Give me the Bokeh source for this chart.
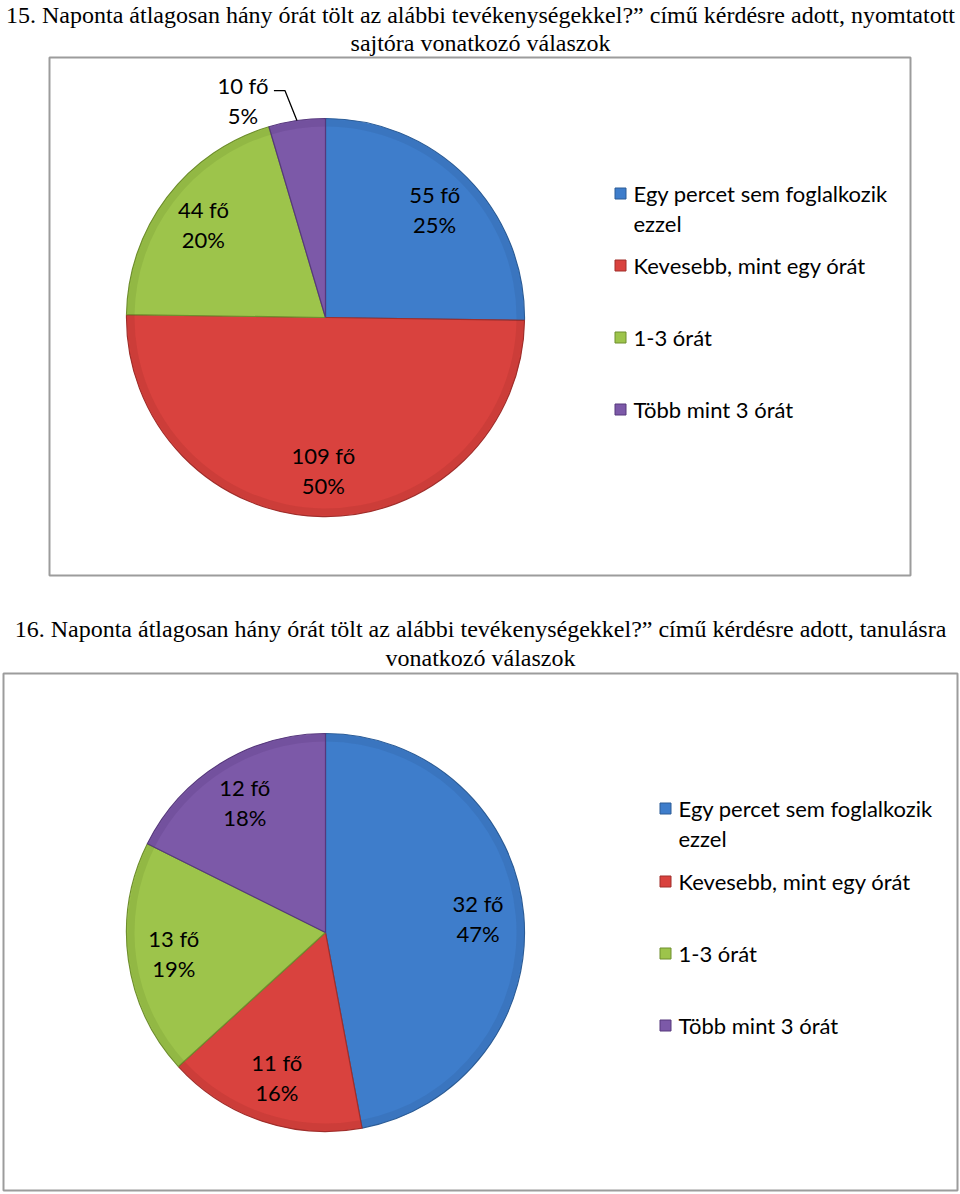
import math
from bokeh.plotting import figure
from bokeh.models import Range1d, ColumnDataSource
from bokeh.core.properties import value
from bokeh.embed import file_html
from bokeh.resources import INLINE

# ---------------- data ----------------
categories = ["Egy percet sem foglalkozik ezzel", "Kevesebb, mint egy órát",
              "1-3 órát", "Több mint 3 órát"]
legend_lines = [["Egy percet sem foglalkozik", "ezzel"], ["Kevesebb, mint egy órát"],
                ["1-3 órát"], ["Több mint 3 órát"]]
counts_15 = [55, 109, 44, 10]
pct_15 = [25, 50, 20, 5]
counts_16 = [32, 11, 13, 12]
pct_16 = [47, 16, 19, 18]
title_15 = ["15. Naponta átlagosan hány órát tölt az alábbi tevékenységekkel?\u201d című kérdésre adott, nyomtatott",
            "sajtóra vonatkozó válaszok"]
title_16 = ["16. Naponta átlagosan hány órát tölt az alábbi tevékenységekkel?\u201d című kérdésre adott, tanulásra",
            "vonatkozó válaszok"]

colors = ["#3E7DCB", "#D9423E", "#9DC44B", "#7C59A8"]
dark = ["#2C5C96", "#A02E2B", "#6F8F2E", "#56387C"]

W, H = 960, 1194
LABEL_FONT = value("Lato")
TITLE_FONT = value("Liberation Serif")

p = figure(width=W, height=H, x_range=Range1d(0, W), y_range=Range1d(0, H),
           output_backend="svg", toolbar_location=None, min_border=0)
p.axis.visible = False
p.grid.visible = False
p.outline_line_color = None
p.background_fill_color = "white"
p.border_fill_color = "white"


def Y(py):
    return H - py


def draw_title(lines, ys, size="24px"):
    for t, y in zip(lines, ys):
        p.text(x=[W / 2], y=[Y(y)], text=[t], text_font=TITLE_FONT, text_font_size=size,
               text_align="center", text_baseline="middle", text_color="black")


def draw_box(x0, x1, y0, y1):
    p.quad(left=[x0], right=[x1], top=[Y(y0)], bottom=[Y(y1)], fill_color=None,
           line_color="#9C9C9C", line_width=2)


def draw_pie(cx, cy, r, counts, pcts, outside=None):
    total = sum(counts)
    cum = 0.0
    starts, ends, mids = [], [], []
    for c in counts:
        f0 = cum / total
        cum += c
        f1 = cum / total
        starts.append(math.pi / 2 - 2 * math.pi * f0)
        ends.append(math.pi / 2 - 2 * math.pi * f1)
        mids.append((f0 + f1) / 2)
    src = ColumnDataSource(dict(x=[cx] * len(counts), y=[Y(cy)] * len(counts), s=starts, e=ends,
                                c=colors, d=dark))
    p.wedge(x="x", y="y", radius=r, start_angle="s", end_angle="e", direction="clock",
            fill_color="c", line_color="d", line_width=1.2, source=src)
    # bevel hint along the rim
    p.annular_wedge(x="x", y="y", inner_radius=r - 8, outer_radius=r - 1, start_angle="s",
                    end_angle="e", direction="clock", fill_color="d", fill_alpha=0.22,
                    line_color=None, source=src)
    # labels
    for i, (c, pc, m) in enumerate(zip(counts, pcts, mids)):
        th = 2 * math.pi * m
        sx, sy = math.sin(th), -math.cos(th)
        if outside is not None and i == outside:
            ex, ey = cx + sx * r, cy + sy * r
            elbow_x, elbow_y = ex - 12, ey - 30
            p.line(x=[ex, elbow_x, elbow_x - 11], y=[Y(ey), Y(elbow_y), Y(elbow_y)],
                   line_color="black", line_width=1.3)
            lx, ly = elbow_x - 42, elbow_y + 10
        else:
            lx, ly = cx + sx * r * 0.77, cy + sy * r * 0.77
        p.text(x=[lx, lx], y=[Y(ly - 15), Y(ly + 15)], text=[f"{c} fő", f"{pc}%"],
               text_font=LABEL_FONT, text_font_size="22px", text_align="center",
               text_baseline="middle", text_color="black")


def draw_legend(sqx, tx, ys):
    for i, (lines, y) in enumerate(zip(legend_lines, ys)):
        p.rect(x=[sqx], y=[Y(y)], width=11, height=11, fill_color=colors[i],
               line_color=dark[i], line_width=1)
        for j, t in enumerate(lines):
            p.text(x=[tx], y=[Y(y + 30 * j)], text=[t], text_font=LABEL_FONT,
                   text_font_size="22px", text_align="left", text_baseline="middle",
                   text_color="black")


# chart 15
draw_title(title_15, [14, 42])
draw_box(49, 910, 57, 575)
draw_pie(325, 317, 199, counts_15, pct_15, outside=3)
draw_legend(620, 633, [193, 265, 337, 409])

# chart 16
draw_title(title_16, [628, 657])
draw_box(3, 957, 673, 1190)
draw_pie(325, 932, 199, counts_16, pct_16)
draw_legend(665, 678, [808, 881, 953, 1025])

open("out.html", "w").write(file_html(p, INLINE))
